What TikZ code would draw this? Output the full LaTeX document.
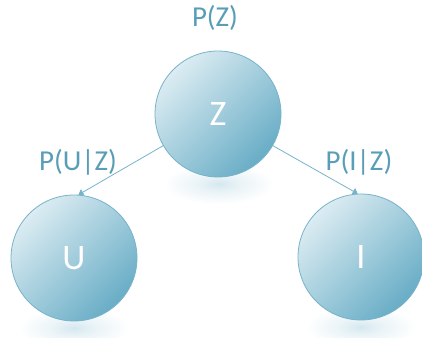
\documentclass[tikz,border=0pt]{standalone}
\usepackage{fontspec}
\setmainfont{Carlito}
\usetikzlibrary{positioning, arrows.meta}
\usepackage{xcolor}
\definecolor{nodeblue}{HTML}{68ADC6}
\definecolor{nodelight}{HTML}{DCECF2}
\definecolor{edgeblue}{HTML}{76B3CA}
\definecolor{labelblue}{HTML}{5A9DB6}
\pgfdeclareradialshading{floorglow}{\pgfpoint{0bp}{0bp}}{color(0bp)=(nodeblue!28); color(9bp)=(nodeblue!14); color(23bp)=(white); color(50bp)=(white)}

\begin{document}
\begin{tikzpicture}[
  x=1bp, y=-1bp,
  every node/.style={font=\fontsize{29}{30}\selectfont, text=labelblue},
  var/.style={circle, draw=edgeblue, line width=0.8bp, minimum size=126bp, inner sep=0pt,
    top color=nodelight, bottom color=nodeblue, shading angle=45,
    text=white, font=\fontsize{36}{36}\selectfont},
  glow/.style={shading=floorglow},
  link/.style={-{Triangle[width=7bp,length=5bp]}, draw=edgeblue, line width=0.8bp},
]
\useasboundingbox (0,0) rectangle (422,338);
\shade[glow] (219,184) ellipse [x radius=60bp, y radius=22bp];
\shade[glow] (74,328) ellipse [x radius=60bp, y radius=22bp];
\shade[glow] (361,327) ellipse [x radius=60bp, y radius=22bp];
\node[var] (z) at (218,114) {Z};
\node[var] (u) at (74,258) {U};
\node[var] (i) at (361,257) {I};
\draw[link] (z.210) -- (u.86);
\draw[link] (z.-30) -- (i.93);
\node (pz) at (215,18) {P(Z)};
\node (puz) at (78,162) {P(U|Z)};
\node (piz) at (359,162) {P(I|Z)};
\end{tikzpicture}
\end{document}
